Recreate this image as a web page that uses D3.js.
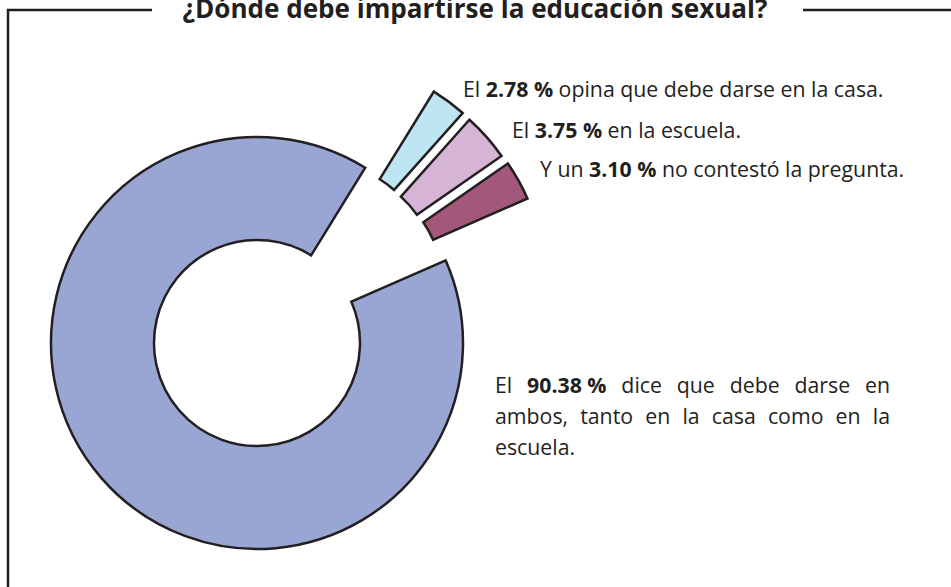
<!DOCTYPE html>
<html><head><meta charset="utf-8">
<script src="https://cdn.jsdelivr.net/npm/d3@7"></script>
<style>body{margin:0;background:#fff}svg{display:block}</style>
</head><body>
<script>
const title = "¿Dónde debe impartirse la educación sexual?";
const categories = ["casa", "escuela", "no contestó", "ambos"];
const values = [2.78, 3.75, 3.10, 90.38];
const exploded = [true, true, true, false];
const smallLabels = [
  ["El ", "2.78 %", " opina que debe darse en la casa."],
  ["El ", "3.75 %", " en la escuela."],
  ["Y un ", "3.10 %", " no contestó la pregunta."]
];
const bigLabelLines = [
  ["El", "**90.38 %", "dice", "que", "debe", "darse", "en"],
  ["ambos,", "tanto", "en", "la", "casa", "como", "en", "la"],
  ["escuela."]
];

const W = 951, H = 587;
const ink = "#231f20";
const color = d3.scaleOrdinal().domain(categories)
  .range(["#bde5f2", "#d6b4d6", "#a2577b", "#99a5d3"]);

const svg = d3.select("body").append("svg").attr("width", W).attr("height", H);

// frame
svg.append("path")
  .attr("d", `M8,${H} V10 H152 M803,10 H${W}`)
  .attr("fill", "none").attr("stroke", ink).attr("stroke-width", 2.5);

svg.append("text").attr("x", 475).attr("y", 18)
  .attr("text-anchor", "middle")
  .attr("font-family", "'Open Sans', sans-serif").attr("font-weight", 700)
  .attr("font-size", 26).attr("fill", ink)
  .attr("textLength", 585).attr("lengthAdjust", "spacingAndGlyphs")
  .text(title);

// donut
const cx = 257, cy = 343, R = 206, r0 = 103;
const start = 31.7 * Math.PI / 180;
const pie = d3.pie().sort(null).value(d => d).startAngle(start).endAngle(start + 2 * Math.PI);
const arcs = pie(values);
const arc = d3.arc().innerRadius(r0).outerRadius(R);
const g = svg.append("g").attr("transform", `translate(${cx},${cy})`);
const explodeDist = 102.5;
g.selectAll("path").data(arcs).join("path")
  .attr("d", arc)
  .attr("fill", (d, i) => color(categories[i]))
  .attr("stroke", ink).attr("stroke-width", 2.5).attr("stroke-linejoin", "miter")
  .attr("transform", (d, i) => {
    if (!exploded[i]) return null;
    const mid = (d.startAngle + d.endAngle) / 2;
    const dir = mid * 0.45 + 25.5 * Math.PI / 180;
    return `translate(${explodeDist * Math.sin(dir)},${-explodeDist * Math.cos(dir)})`;
  });

// small labels
const font = "'Open Sans', sans-serif";
const fs = 21.3;
const smallPos = [[463, 97], [512, 138], [540, 177]];
smallLabels.forEach((parts, i) => {
  const t = svg.append("text").attr("x", smallPos[i][0]).attr("y", smallPos[i][1])
    .attr("font-family", font).attr("font-size", fs).attr("fill", ink)
    .attr("xml:space", "preserve").style("white-space", "pre");
  parts.forEach((p, j) => t.append("tspan").attr("font-weight", j === 1 ? 700 : 400).text(p));
});

// justified big label
const bx0 = 495, bx1 = 890, by = [393, 424, 455];
bigLabelLines.forEach((words, li) => {
  const items = words.map(w => {
    const bold = w.startsWith("**");
    const txt = bold ? w.slice(2) : w;
    const t = svg.append("text").attr("y", by[li])
      .attr("font-family", font).attr("font-size", fs).attr("fill", ink)
      .attr("font-weight", bold ? 700 : 400).text(txt);
    return { t, w: t.node().getComputedTextLength() };
  });
  const total = d3.sum(items, d => d.w);
  const last = li === bigLabelLines.length - 1;
  const gap = (last || items.length < 2) ? fs * 0.26 : (bx1 - bx0 - total) / (items.length - 1);
  let x = bx0;
  items.forEach(it => { it.t.attr("x", x); x += it.w + gap; });
});
</script>
</body></html>
